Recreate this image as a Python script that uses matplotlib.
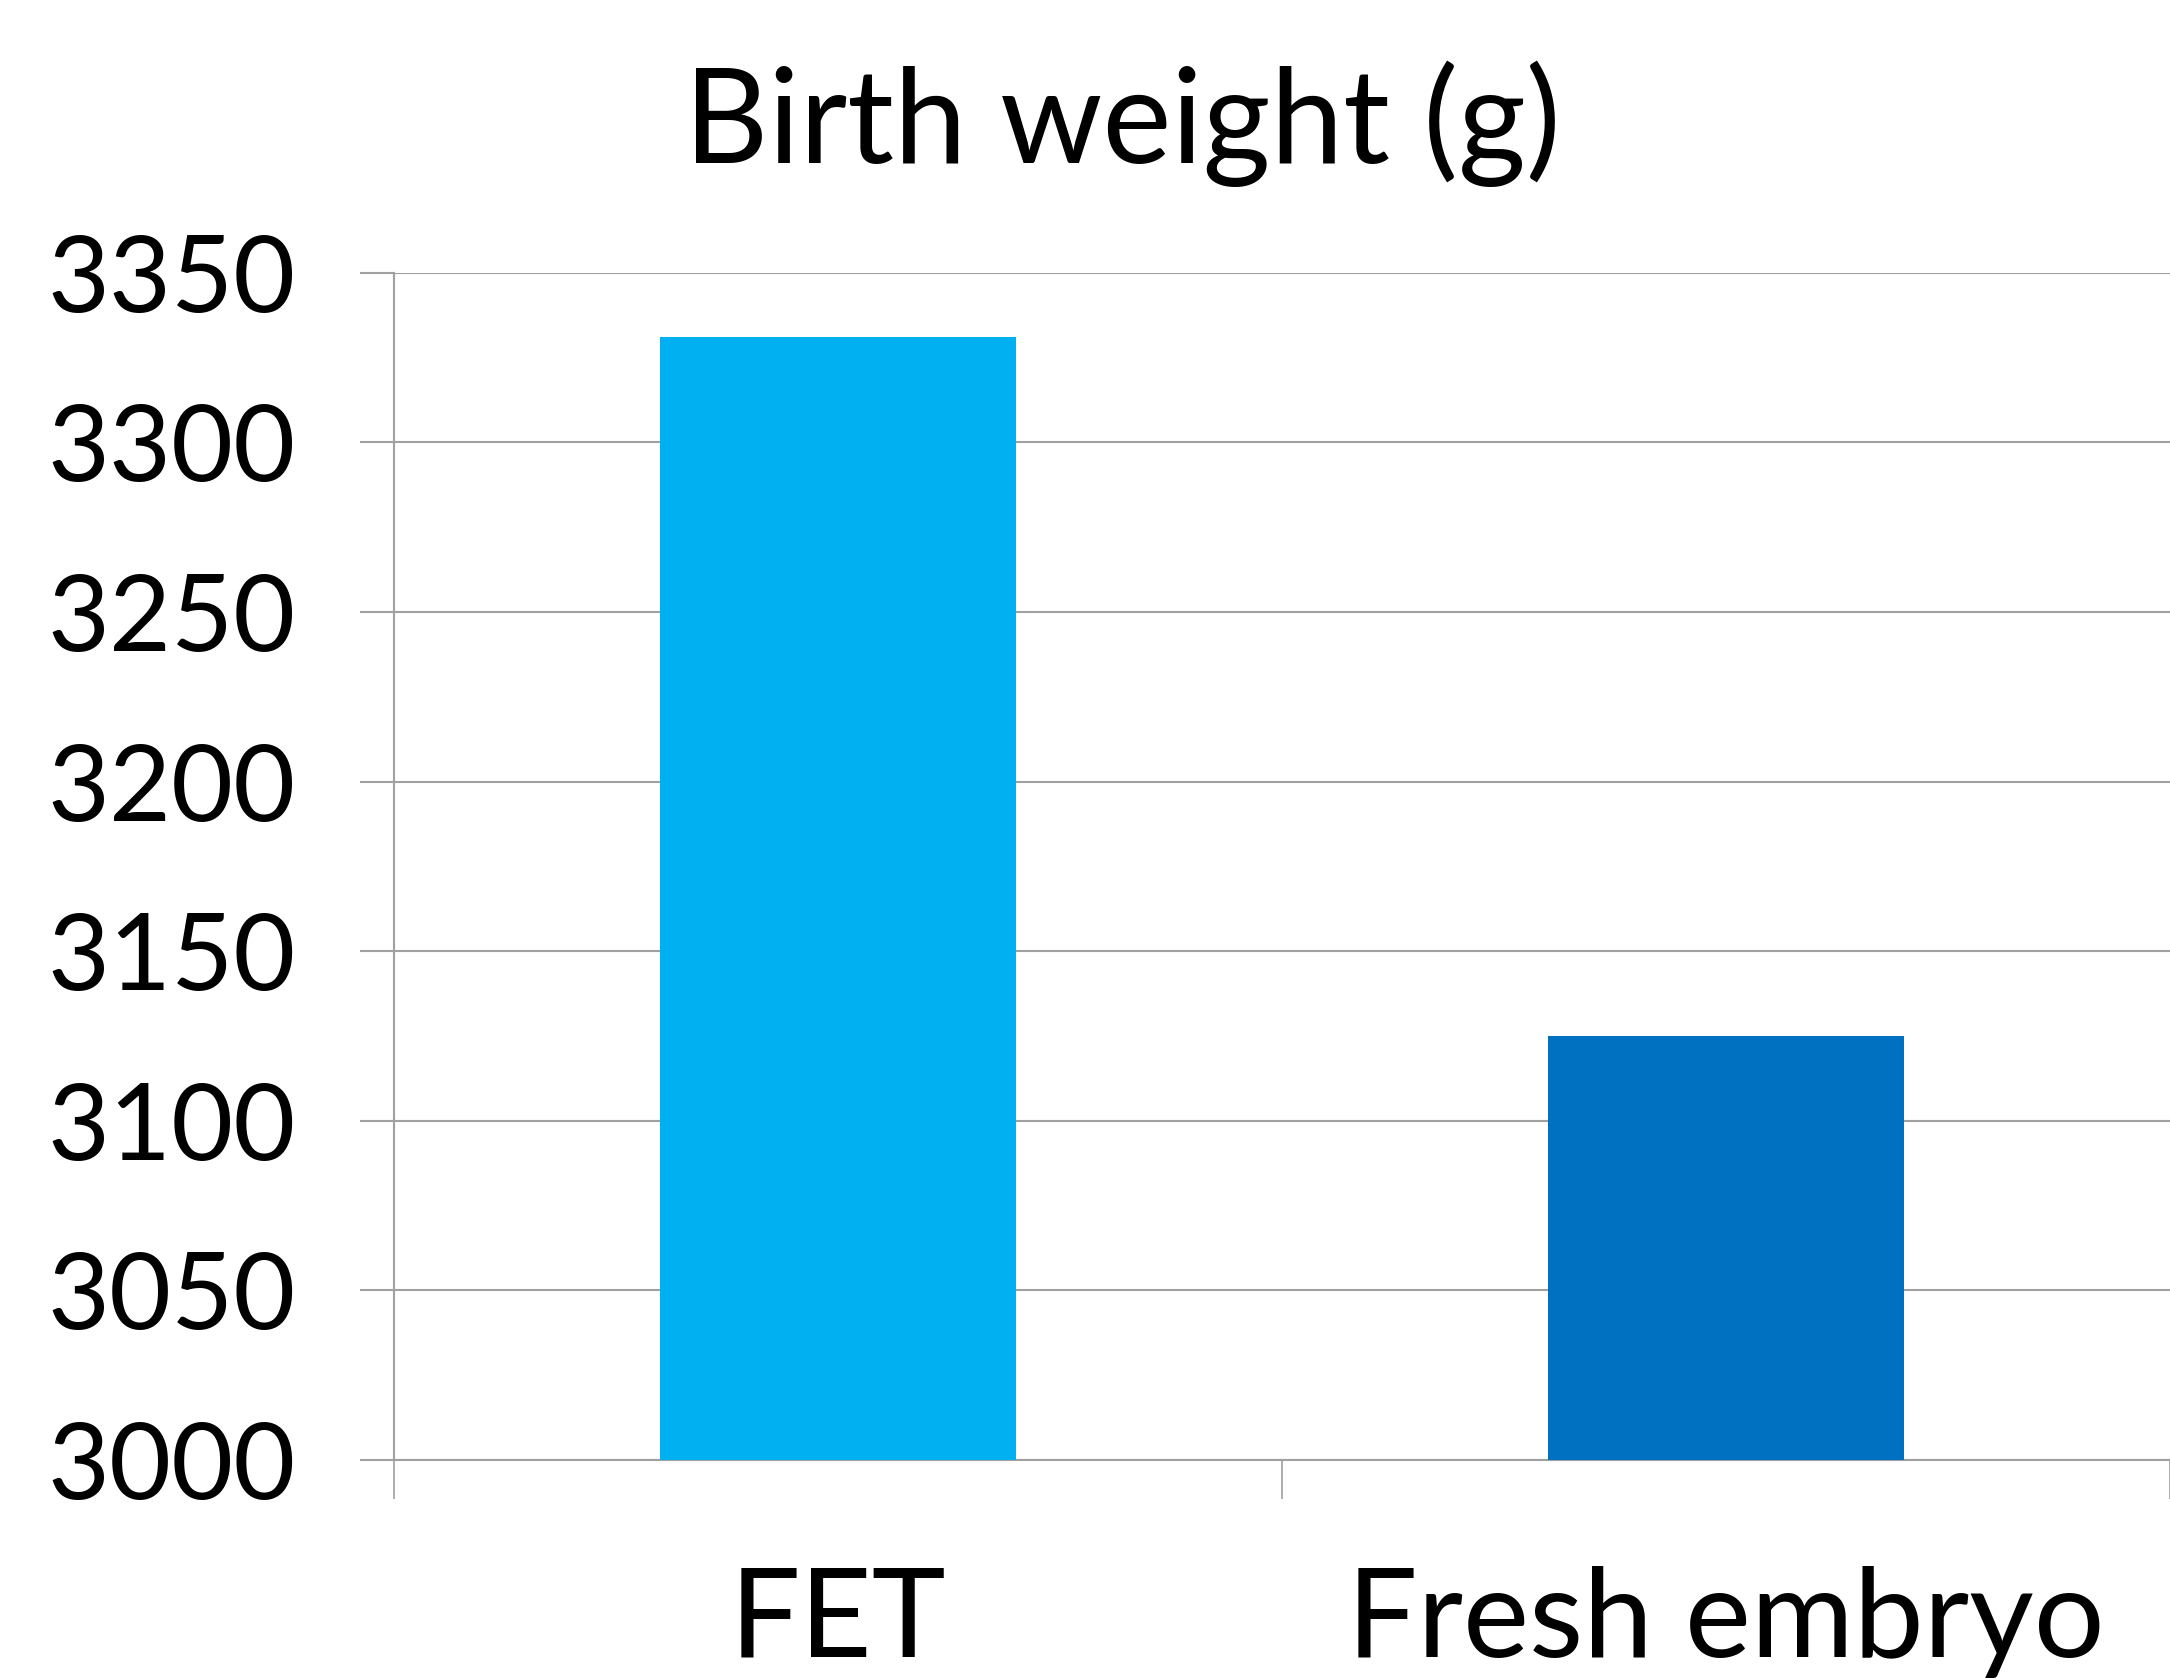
import matplotlib.pyplot as plt

plt.rcParams['font.family'] = ['Lato', 'DejaVu Sans']

# data
groups = ["FET", "Fresh embryo"]
birth_weight = [3331, 3125]
bar_colours = ["#00B0F0", "#0070C0"]
y_ticks = [3000, 3050, 3100, 3150, 3200, 3250, 3300, 3350]

grid_col = "#a0a0a0"

fig = plt.figure(figsize=(21.7, 16.78), dpi=100)
ax = fig.add_axes([0.1816, 0.1299, 0.8184, 0.7076])

xpos = list(range(len(groups)))
ax.bar(xpos, [v - y_ticks[0] for v in birth_weight], bottom=y_ticks[0],
       width=0.4, color=bar_colours, zorder=3)

ax.set_xlim(-0.5, 1.5)
ax.set_ylim(y_ticks[0], y_ticks[-1])
ax.set_yticks(y_ticks)
ax.set_yticklabels([str(t) for t in y_ticks])

# category ticks sit on the boundaries, labels in the middle
ax.set_xticks([-0.5, 0.5, 1.5])
ax.set_xticklabels([])
ax.set_xticks(xpos, minor=True)
ax.set_xticklabels(groups, minor=True)
ax.tick_params(axis='x', which='minor', length=0, pad=76, labelsize=90)
ax.tick_params(axis='x', which='major', length=28, width=1.2, color=grid_col)
ax.tick_params(axis='y', length=24.5, width=1.5, color=grid_col, pad=46,
               labelsize=77)

ax.yaxis.grid(True, color=grid_col, linewidth=1.5, zorder=0)
ax.set_axisbelow(True)
for s in ["top", "right"]:
    ax.spines[s].set_visible(False)
ax.spines["left"].set_color(grid_col)
ax.spines["left"].set_linewidth(1.5)
ax.spines["bottom"].set_color(grid_col)
ax.spines["bottom"].set_linewidth(1.5)

fig.text(0.517, 0.903, "Birth weight (g)", fontsize=94, ha='center',
         va='baseline')

fig.savefig("out.png", dpi=100)
